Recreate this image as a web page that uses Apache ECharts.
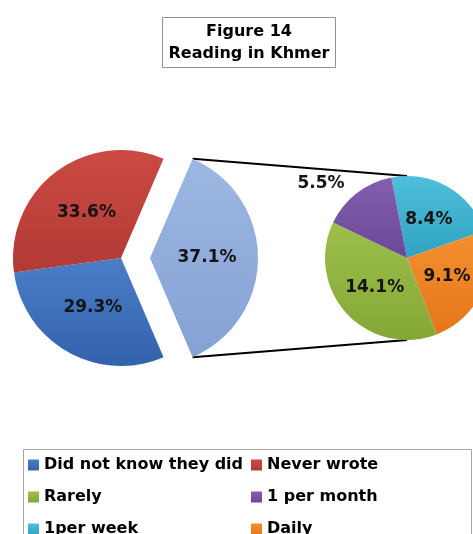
<!DOCTYPE html>
<html>
<head>
<meta charset="utf-8">
<script src="https://cdn.jsdelivr.net/npm/echarts@6/dist/echarts.min.js"></script>
<style>
  html, body { margin: 0; padding: 0; background: #fff; }
  #chart { width: 473px; height: 534px; }
</style>
</head>
<body>
<div id="chart"></div>
<script>
// main pie: the two big slices (the third one is split into the small pie)
const mainNames = ['Did not know they did', 'Never wrote'];
const mainValues = [29.3, 33.6];
// small pie, clockwise from the top
const subNames = ['1per week', 'Daily', 'Rarely', '1 per month'];
const subValues = [8.4, 9.1, 14.1, 5.5];

const legendCol1 = ['Did not know they did', 'Rarely', '1per week'];
const legendCol2 = ['Never wrote', '1 per month', 'Daily'];

const colors = {
  'Did not know they did': ['#4a7ec7', '#3462ad'],
  'Never wrote': ['#cb4a43', '#b23a35'],
  'Other': ['#9db7e2', '#86a1d4'],
  'Rarely': ['#9dbf4c', '#84a736'],
  '1 per month': ['#8260ad', '#6b4896'],
  '1per week': ['#4fbfda', '#2fa3c2'],
  'Daily': ['#f5902f', '#e3771a']
};

const otherValue = subValues.reduce((a, b) => a + b, 0);
const total = mainValues.reduce((a, b) => a + b, 0) + otherValue;
// half the angle of the split slice, so it points straight right
const half = otherValue / total * 180;

const c1 = [121, 258], r1 = 108, offset = 29;
const c2 = [407, 258], r2 = 82;

function grad (name) {
  const c = colors[name];
  return new echarts.graphic.LinearGradient(0, 0, 0, 1, [
    { offset: 0, color: c[0] },
    { offset: 1, color: c[1] }
  ]);
}

const labelStyle = {
  show: true,
  position: 'inside',
  color: '#141414',
  fontSize: 17,
  fontWeight: 'bold',
  fontFamily: 'DejaVu Sans',
  formatter: (p) => p.value.toFixed(1) + '%'
};

const mainData = [{ name: 'Other', value: otherValue, selected: true, itemStyle: { color: grad('Other') } }];
mainNames.forEach((n, i) => {
  mainData.push({ name: n, value: mainValues[i], itemStyle: { color: grad(n) } });
});

const subData = subNames.map((n, i) => {
  const item = { name: n, value: subValues[i], itemStyle: { color: grad(n) } };
  if (n === '1 per month') {
    item.label = { position: 'outside' };
    item.labelLine = { show: false, length: 12, length2: 0 };
  }
  return item;
});

// connector lines from the split slice to the small pie
const rad = half * Math.PI / 180;
const vx = c1[0] + offset;
const topA = [vx + r1 * Math.cos(rad), c1[1] - r1 * Math.sin(rad)];
const botA = [vx + r1 * Math.cos(rad), c1[1] + r1 * Math.sin(rad)];

const legendBase = {
  orient: 'vertical',
  icon: 'rect',
  itemWidth: 11,
  itemHeight: 11,
  itemGap: 12,
  padding: 0,
  top: 455,
  height: 120,
  selectedMode: false,
  textStyle: {
    color: '#000',
    fontSize: 16,
    fontWeight: 'bold',
    fontFamily: 'DejaVu Sans',
    lineHeight: 20
  }
};

const option = {
  animation: false,
  backgroundColor: '#fff',
  title: {
    text: 'Figure 14\nReading in Khmer',
    left: 243,
    top: 17,
    textAlign: 'center',
    padding: [4, 6, 3, 6],
    borderColor: '#8a94a6',
    borderWidth: 1,
    textStyle: {
      color: '#000',
      fontSize: 16,
      fontWeight: 'bold',
      fontFamily: 'DejaVu Sans',
      lineHeight: 22
    }
  },
  legend: [
    Object.assign({}, legendBase, { left: 28, data: legendCol1 }),
    Object.assign({}, legendBase, { left: 251, data: legendCol2 })
  ],
  graphic: [
    {
      type: 'line', z: 0, silent: true,
      shape: { x1: topA[0], y1: topA[1], x2: c2[0], y2: c2[1] - r2 },
      style: { stroke: '#000', lineWidth: 2 }
    },
    {
      type: 'line', z: 0, silent: true,
      shape: { x1: botA[0], y1: botA[1], x2: c2[0], y2: c2[1] + r2 },
      style: { stroke: '#000', lineWidth: 2 }
    },
    {
      type: 'rect', z: 0, silent: true,
      shape: { x: 23.5, y: 449.5, width: 448, height: 100 },
      style: { fill: 'none', stroke: '#a6a6a6', lineWidth: 1 }
    }
  ],
  series: [
    {
      type: 'pie',
      center: c1,
      radius: r1,
      startAngle: half,
      clockwise: true,
      selectedMode: 'single',
      selectedOffset: offset,
      avoidLabelOverlap: false,
      label: labelStyle,
      labelLine: { show: false },
      emphasis: { disabled: true },
      data: mainData
    },
    {
      type: 'pie',
      center: c2,
      radius: r2,
      startAngle: 101,
      clockwise: true,
      avoidLabelOverlap: false,
      label: labelStyle,
      labelLine: { show: false },
      emphasis: { disabled: true },
      data: subData
    }
  ]
};

const chart = echarts.init(document.getElementById('chart'));
chart.setOption(option);
</script>
</body>
</html>
